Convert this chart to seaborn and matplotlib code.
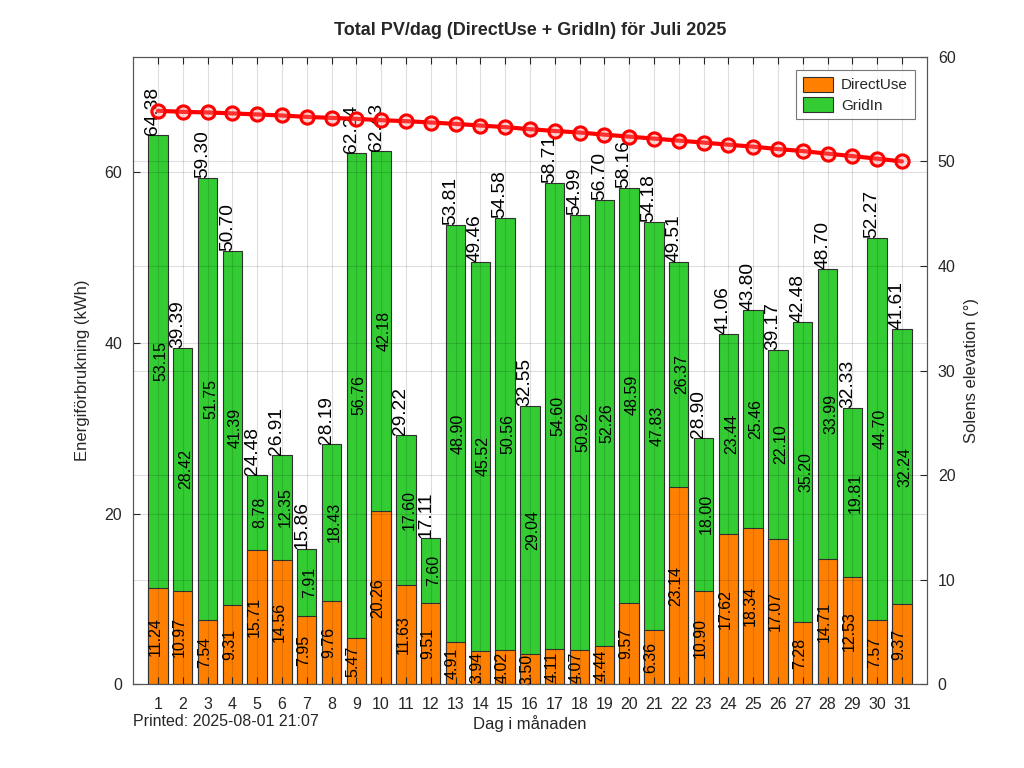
import matplotlib
matplotlib.use("Agg")
import matplotlib.pyplot as plt
from matplotlib.patches import Patch
import seaborn as sns
import numpy as np
import pandas as pd

days = list(range(1, 32))
direct_use = [11.24, 10.97, 7.54, 9.31, 15.71, 14.56, 7.95, 9.76, 5.47, 20.26,
              11.63, 9.51, 4.91, 3.94, 4.02, 3.50, 4.11, 4.07, 4.44, 9.57,
              6.36, 23.14, 10.90, 17.62, 18.34, 17.07, 7.28, 14.71, 12.53, 7.57, 9.37]
grid_in = [53.15, 28.42, 51.75, 41.39, 8.78, 12.35, 7.91, 18.43, 56.76, 42.18,
           17.60, 7.60, 48.90, 45.52, 50.56, 29.04, 54.60, 50.92, 52.26, 48.59,
           47.83, 26.37, 18.00, 23.44, 25.46, 22.10, 35.20, 33.99, 19.81, 44.70, 32.24]
totals = [64.38, 39.39, 59.30, 50.70, 24.48, 26.91, 15.86, 28.19, 62.24, 62.43,
          29.22, 17.11, 53.81, 49.46, 54.58, 32.55, 58.71, 54.99, 56.70, 58.16,
          54.18, 49.51, 28.90, 41.06, 43.80, 39.17, 42.48, 48.70, 32.33, 52.27, 41.61]
elevation = [54.84, 54.74, 54.68, 54.59, 54.49, 54.39, 54.26, 54.16, 54.07, 53.94,
             53.85, 53.72, 53.59, 53.43, 53.28, 53.08, 52.91, 52.76, 52.56, 52.37,
             52.18, 51.99, 51.80, 51.60, 51.41, 51.18, 50.99, 50.74, 50.51, 50.26, 50.00]

title = "Total PV/dag (DirectUse + GridIn) för Juli 2025"
xlabel = "Dag i månaden"
ylabel_left = "Energiförbrukning (kWh)"
ylabel_right = "Solens elevation (°)"
printed = "Printed: 2025-08-01 21:07"

df = pd.DataFrame({"day": days, "direct": direct_use, "grid": grid_in,
                   "total": totals, "elev": elevation})

sns.set_style("white")
plt.rcParams["font.family"] = ["Liberation Sans", "DejaVu Sans"]

orange = "#FF8000"
green = "#33CC33"
axcol = "#262626"

fig = plt.figure(figsize=(10.24, 7.68), dpi=100)
ax = fig.add_axes([0.13, 0.109, 0.775, 0.817])

sns.barplot(data=df, x="day", y="total", native_scale=True, color=green,
            saturation=1, width=0.78, edgecolor="#303030", linewidth=0.8,
            errorbar=None, ax=ax, zorder=2)
sns.barplot(data=df, x="day", y="direct", native_scale=True, color=orange,
            saturation=1, width=0.78, edgecolor="#303030", linewidth=0.8,
            errorbar=None, ax=ax, zorder=2)

for d, du, gi, tot in zip(days, direct_use, grid_in, totals):
    ax.text(d - 0.12, du / 2, f"{du:.2f}", rotation=90, ha="center", va="center",
            fontsize=11.5, color="black", zorder=4)
    ax.text(d + 0.12, du + gi / 2, f"{gi:.2f}", rotation=90, ha="center", va="center",
            fontsize=11.5, color="black", zorder=4)
    ax.text(d - 0.2, tot, f"{tot:.2f}", rotation=90, ha="center", va="bottom",
            fontsize=13.8, color="black", zorder=4)

ax.set_xlim(0, 32)
ax.set_ylim(0, 73.5)
ax.set_xticks(days)
ax.set_xticklabels([str(d) for d in days])
ax.set_yticks([0, 20, 40, 60])
ax.set_axisbelow(False)
ax.grid(True, color="black", alpha=0.13, linewidth=0.8, zorder=3)
ax.tick_params(axis="x", which="both", direction="in", top=True, bottom=True,
               length=5, labelsize=11.5, colors=axcol, pad=9.5)
ax.tick_params(axis="y", direction="in", left=True, right=False, length=5,
               labelsize=11.5, colors=axcol, pad=8)
ax.set_xlabel(xlabel, fontsize=12, color=axcol)
ax.xaxis.set_label_coords(0.5, -0.049)
ax.xaxis.label.set_va("top")
ax.set_ylabel(ylabel_left, fontsize=12, color=axcol, labelpad=10)
for s in ax.spines.values():
    s.set_color("#555555")
    s.set_linewidth(0.8)

ax2 = ax.twinx()
sns.lineplot(data=df, x="day", y="elev", ax=ax2, color="#FF0000", linewidth=3,
             marker="o", markersize=9.5, markerfacecolor=(1, 0.55, 0.55, 0.35),
             markeredgecolor="#FF0000", markeredgewidth=2.2, zorder=5)
ax2.set_xlim(0, 32)
ax2.set_ylim(0, 60)
ax2.set_yticks(range(0, 61, 10))
ax2.grid(True, axis="y", color="black", alpha=0.13, linewidth=0.8)
ax2.tick_params(axis="y", direction="in", right=True, length=5, labelsize=11.5,
                colors=axcol, pad=8)
ax2.set_ylabel(ylabel_right, fontsize=12, color=axcol, labelpad=6)
ax2.set_xlabel("")
for s in ax2.spines.values():
    s.set_color("#555555")
    s.set_linewidth(0.8)

handles = [Patch(facecolor=orange, edgecolor="#303030", linewidth=0.8, label="DirectUse"),
           Patch(facecolor=green, edgecolor="#303030", linewidth=0.8, label="GridIn")]
leg = ax2.legend(handles=handles, loc="upper right", bbox_to_anchor=(0.985, 0.979),
                 borderaxespad=0, fontsize=11, frameon=True, fancybox=False,
                 edgecolor="#555555", handlelength=2.0, handleheight=1.1,
                 handletextpad=0.5, borderpad=0.45, labelspacing=0.3)
leg.get_frame().set_linewidth(0.8)

fig.text(0.518, 0.96, title, fontsize=13, fontweight="bold", ha="center", va="center")
fig.text(0.13, 1 - 726 / 768, printed, fontsize=11.5, color=axcol, ha="left",
         va="baseline")

fig.savefig("out.png", dpi=100)
